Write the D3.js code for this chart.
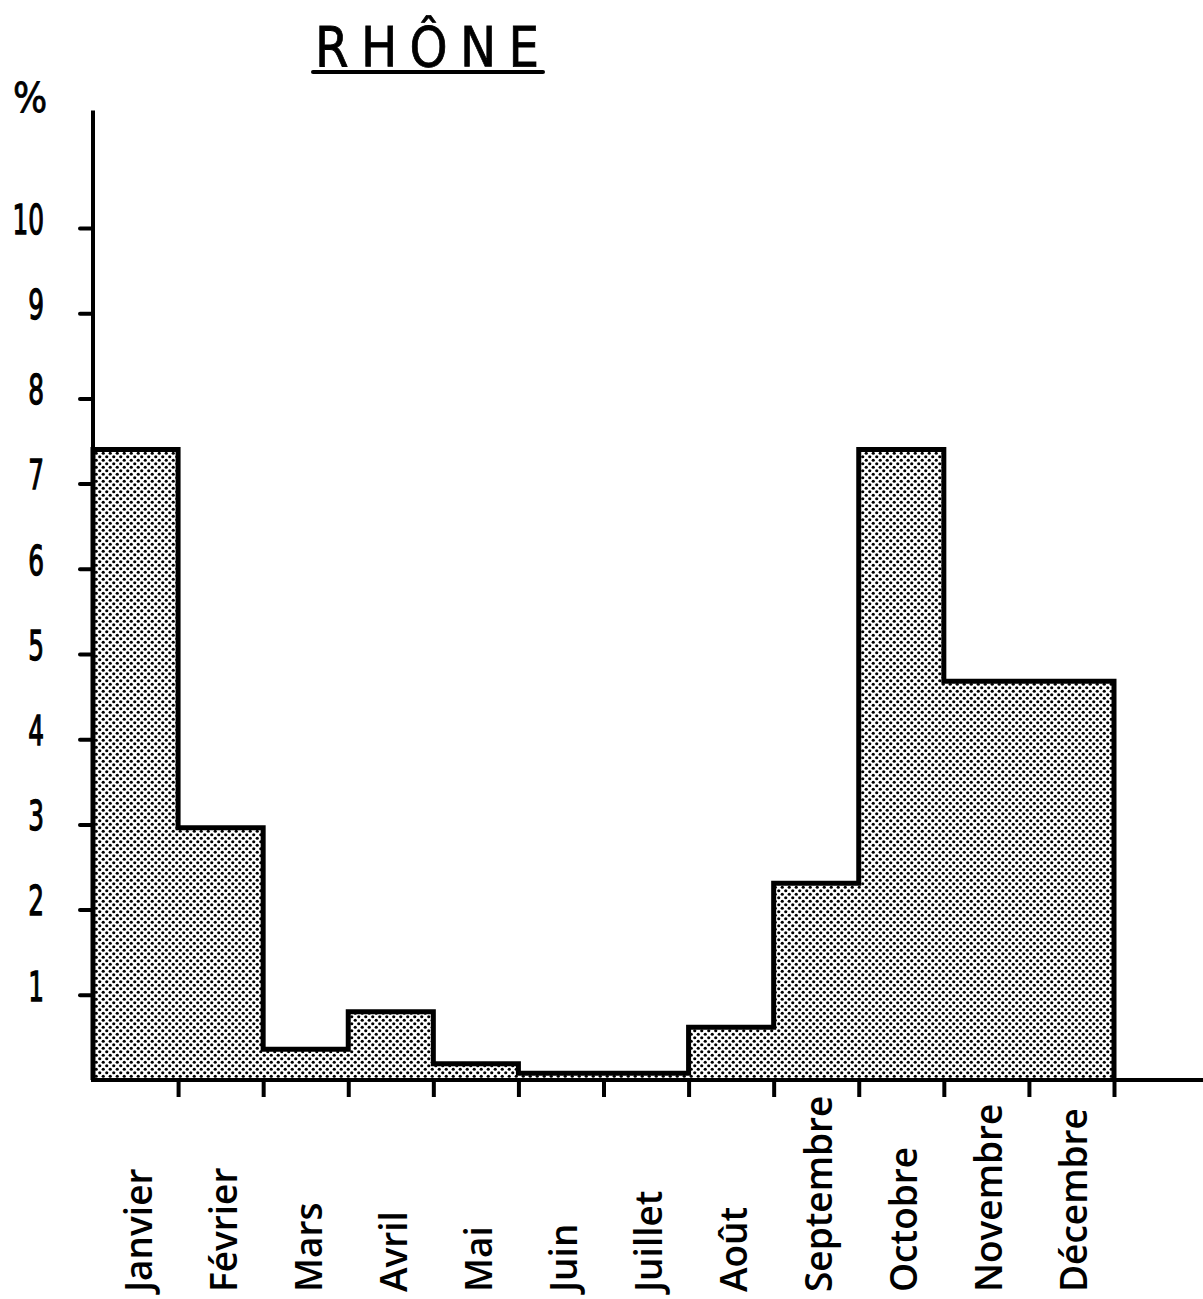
<!DOCTYPE html>
<html>
<head>
<meta charset="utf-8">
<script src="https://cdn.jsdelivr.net/npm/d3@7"></script>
<style>
  html, body { margin: 0; padding: 0; background: #fff; }
  svg { display: block; }
</style>
</head>
<body>
<svg id="chart" width="1203" height="1299"></svg>
<script>
// ---- data ----
const title = "RHÔNE";
const unitLabel = "%";
const months = ["Janvier", "Février", "Mars", "Avril", "Mai", "Juin", "Juillet", "Août", "Septembre", "Octobre", "Novembre", "Décembre"];
const values = [7.4, 2.96, 0.36, 0.8, 0.19, 0.08, 0.08, 0.62, 2.31, 7.4, 4.68, 4.68];
const yTicks = [1, 2, 3, 4, 5, 6, 7, 8, 9, 10];

// ---- layout ----
const svg = d3.select("#chart");
const x = d3.scaleLinear().domain([0, 12]).range([93, 1114]);
const y = d3.scaleLinear().domain([0, 10]).range([1080, 228]);
const yTop = 11.38;
const xRightEnd = 1203;

// dotted pattern
const defs = svg.append("defs");
const pat = defs.append("pattern")
  .attr("id", "dots").attr("patternUnits", "userSpaceOnUse")
  .attr("width", 7).attr("height", 7);
pat.append("rect").attr("width", 7).attr("height", 7).attr("fill", "#fff");
pat.append("circle").attr("cx", 1.75).attr("cy", 1.75).attr("r", 1.6).attr("fill", "#000");
pat.append("circle").attr("cx", 5.25).attr("cy", 5.25).attr("r", 1.6).attr("fill", "#000");

// area data (step)
const pts = values.map((v, i) => ({ i, v }));
pts.push({ i: 12, v: values[values.length - 1] });

const area = d3.area()
  .curve(d3.curveStepAfter)
  .x(d => x(d.i))
  .y0(y(0))
  .y1(d => y(d.v));

svg.append("path")
  .datum(pts)
  .attr("d", area)
  .attr("fill", "url(#dots)");

// outline
const outlinePts = [{ i: 0, v: 0 }, ...pts, { i: 12, v: 0 }];
const line = d3.line().curve(d3.curveStepAfter).x(d => x(d.i)).y(d => y(d.v));
svg.append("path")
  .datum(outlinePts)
  .attr("d", line)
  .attr("fill", "none")
  .attr("stroke", "#000")
  .attr("stroke-width", 5)
  .attr("stroke-linejoin", "miter");

// x axis (ticks at month boundaries, below)
const xAxis = d3.axisBottom(x).tickValues(d3.range(1, 13)).tickSize(17).tickFormat("");
const gx = svg.append("g").attr("transform", `translate(0,${y(0)})`).call(xAxis);
gx.select(".domain").remove();
gx.selectAll(".tick line").attr("stroke", "#000").attr("stroke-width", 4);
svg.append("line")
  .attr("x1", x(0) - 2).attr("x2", xRightEnd)
  .attr("y1", y(0)).attr("y2", y(0))
  .attr("stroke", "#000").attr("stroke-width", 4);

// y axis
const yAxis = d3.axisLeft(y).tickValues(yTicks).tickSize(13).tickFormat("");
const gy = svg.append("g").attr("transform", `translate(${x(0)},0)`).call(yAxis);
gy.select(".domain").remove();
gy.selectAll(".tick line").attr("stroke", "#000").attr("stroke-width", 4).attr("stroke-linecap", "round");
svg.append("line")
  .attr("x1", x(0)).attr("x2", x(0))
  .attr("y1", y(yTop)).attr("y2", y(0) + 2)
  .attr("stroke", "#000").attr("stroke-width", 4);

// y tick labels (condensed)
svg.append("g").selectAll("text")
  .data(yTicks)
  .join("text")
  .attr("transform", d => `translate(44,${y(d) - 8}) scale(0.62,1)`)
  .attr("text-anchor", "end")
  .attr("dominant-baseline", "central")
  .attr("font-family", "DejaVu Sans")
  .attr("font-size", 40)
  .attr("fill", "#000")
  .attr("stroke", "#000")
  .attr("stroke-width", 1.3)
  .text(d => d);

// unit label
svg.append("text")
  .attr("transform", "translate(30,112) scale(0.9,1)")
  .attr("text-anchor", "middle")
  .attr("font-family", "DejaVu Sans")
  .attr("font-size", 40)
  .attr("fill", "#000")
  .attr("stroke", "#000")
  .attr("stroke-width", 0.8)
  .text(unitLabel);

// title
svg.append("text")
  .attr("transform", "translate(315,66) scale(0.88,1)")
  .attr("font-family", "DejaVu Sans")
  .attr("font-size", 55)
  .attr("textLength", 224 / 0.88)
  .attr("lengthAdjust", "spacing")
  .attr("fill", "#000")
  .attr("stroke", "#000")
  .attr("stroke-width", 0.8)
  .text(title);
svg.append("line")
  .attr("x1", 313).attr("x2", 543)
  .attr("y1", 72).attr("y2", 72)
  .attr("stroke", "#000").attr("stroke-width", 4).attr("stroke-linecap", "round");

// month labels (rotated)
svg.append("g").selectAll("text")
  .data(months)
  .join("text")
  .attr("transform", (d, i) => `translate(${x(i + 0.5) + 16},1292) rotate(-90)`)
  .attr("text-anchor", "start")
  .attr("font-family", "Open Sans")
  .attr("font-weight", 600)
  .attr("font-size", 37)
  .attr("fill", "#000")
  .text(d => d);
</script>
</body>
</html>
